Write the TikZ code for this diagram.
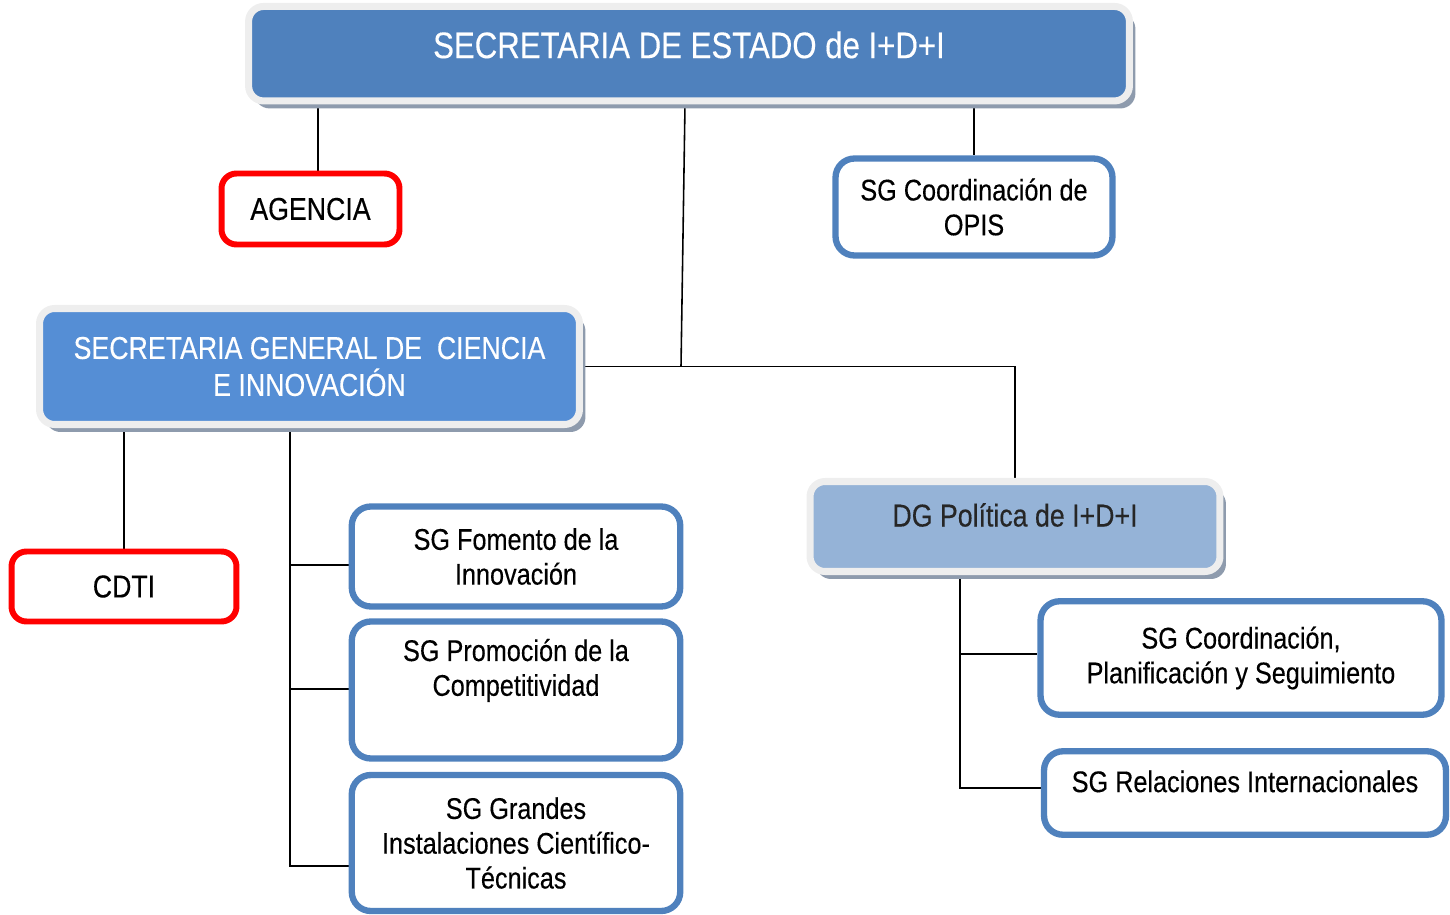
\documentclass[tikz,border=0pt]{standalone}
\usepackage{fontspec}
\setmainfont[FakeStretch=0.845,FakeBold=0.3]{Liberation Sans}
\usetikzlibrary{shadows,backgrounds}
\definecolor{headblue}{HTML}{4F81BD}
\definecolor{sgciblue}{HTML}{558ED5}
\definecolor{dgblue}{HTML}{95B3D7}
\definecolor{framegray}{HTML}{EEEEEE}
\definecolor{shadowgray}{HTML}{8E9BAD}
\definecolor{redline}{HTML}{FF0000}
\tikzset{
  headbox/.style={draw=framegray, line width=4pt, rounded corners=0.3cm, inner sep=0pt, align=center,
    drop shadow={shadow xshift=0.12cm, shadow yshift=-0.15cm, fill=shadowgray, opacity=1}},
  unitbox/.style={draw=headblue, line width=3.6pt, rounded corners=0.38cm, fill=white, inner sep=0pt,
    align=center, font=\fontsize{17}{19.8}\selectfont},
  redbox/.style={draw=redline, line width=3.4pt, rounded corners=0.3cm, fill=white, inner sep=0pt,
    font=\fontsize{18}{21}\selectfont},
  link/.style={line width=0.9pt}
}
\begin{document}
\begin{tikzpicture}[x=0.02cm,y=-0.02cm]
    \useasboundingbox (0,0) rectangle (1450,915);
    %
    \node[headbox, fill=headblue, text=white, minimum width=17.62cm, minimum height=1.89cm,
      text height=15pt, text depth=10pt, font=\fontsize{21}{25}\selectfont] (sede) at (689,53.7)
      {SECRETARIA DE ESTADO de I+D+I};
    \node[redbox, minimum width=3.56cm, minimum height=1.42cm] (agencia) at (310.5,209) {AGENCIA};
    \node[unitbox, minimum width=5.54cm, minimum height=1.94cm] (opis) at (974,207)
      {SG Coordinación de\\OPIS};
    %
    \node[headbox, fill=sgciblue, text=white, minimum width=10.8cm, minimum height=2.32cm,
      font=\fontsize{18}{21}\selectfont] (sgci) at (309.5,366.5)
      {SECRETARIA GENERAL DE\ \ CIENCIA\\E INNOVACIÓN};
    \node[redbox, minimum width=4.5cm, minimum height=1.4cm] (cdti) at (124,586.5) {CDTI};
    \node[unitbox, minimum width=6.57cm, minimum height=2cm] (fomento) at (516,556.5)
      {SG Fomento de la\\Innovación};
    \node[unitbox, minimum width=6.57cm, minimum height=2.74cm] (promocion) at (516,690)
      {SG Promoción de la\\Competitividad\\\strut};
    \node[unitbox, minimum width=6.57cm, minimum height=2.72cm] (grandes) at (516,843)
      {SG Grandes\\Instalaciones Científico-\\Técnicas};
    %
    \node[headbox, fill=dgblue, text=black!85, minimum width=8.2cm, minimum height=1.8cm,
      text height=13pt, text depth=13pt, font=\fontsize{18}{21}\selectfont] (dg) at (1015,526.5)
      {DG Política de I+D+I};
    \node[unitbox, minimum width=8.02cm, minimum height=2.27cm] (sgcoord) at (1241,658)
      {SG Coordinación,\\Planificación y Seguimiento};
    \node[unitbox, minimum width=8.04cm, minimum height=1.67cm, text height=12pt, text depth=13pt]
      (relac) at (1245,793) {SG Relaciones Internacionales};
    %
    \begin{scope}[on background layer]
    \coordinate (hub) at (sgci.east -| 681,0);
    \draw[link] (sede.south -| 318,0) -- (agencia.north -| 318,0);
    \draw[link] (sede.south -| 685,0) -- (hub);
    \draw[link] (sede.south -| opis.north) -- (opis.north);
    \draw[link] (sgci.east) -| (dg.north);
    \draw[link] (sgci.south -| cdti.north) -- (cdti.north);
    \draw[link] (sgci.south -| 290,0) |- (grandes.west |- 0,866);
    \foreach \n/\y in {fomento/565,promocion/689}
      \draw[link] (290,\y) -- (\n.west |- 0,\y);
    \draw[link] (dg.south -| 960,0) |- (relac.west |- 0,788);
    \draw[link] (960,654) -- (sgcoord.west |- 0,654);
    \end{scope}
\end{tikzpicture}
\end{document}
